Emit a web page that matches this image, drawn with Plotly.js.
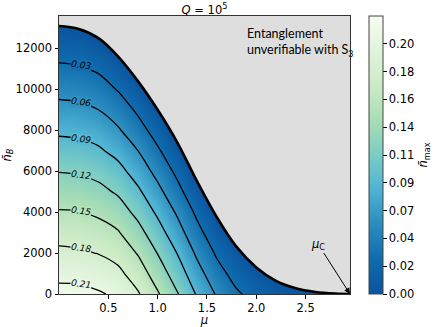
<!DOCTYPE html>
<html>
<head>
<meta charset="utf-8">
<script src="https://cdn.plot.ly/plotly-3.0.1.min.js"></script>
<style>
  body { margin: 0; background: #fff; }
  #plot { width: 444px; height: 327px; }
</style>
</head>
<body>
<div id="plot"></div>
<script>
// Сітка: mu (стовпці) та n_B (рядки)
const mu = [0, 0.2, 0.4, 0.6, 0.8, 1.0, 1.2, 1.4, 1.6, 1.8, 2.0, 2.2, 2.4, 2.6, 2.8, 2.95];
const nB = [0, 1000, 2000, 3000, 4000, 5000, 6000, 7000, 8000, 9000, 10000, 11000, 12000, 13000, 14000];

// n_max, оцінено з картинки (від'ємні значення - за межею, під сірою заливкою)
const nMax = [
  [0.219, 0.218, 0.213, 0.205, 0.183, 0.153, 0.122, 0.087, 0.057, 0.034, 0.020, 0.010, 0.005, 0.002, 0.000, 0.000],
  [0.202, 0.201, 0.196, 0.187, 0.165, 0.136, 0.105, 0.071, 0.041, 0.019, 0.005, -0.006, -0.013, -0.016, -0.015, -0.016],
  [0.186, 0.184, 0.179, 0.169, 0.148, 0.119, 0.089, 0.055, 0.026, 0.005, -0.011, -0.022, -0.031, -0.034, -0.030, -0.032],
  [0.169, 0.167, 0.162, 0.152, 0.130, 0.102, 0.072, 0.039, 0.011, -0.010, -0.026, -0.038, -0.049, -0.052, -0.045, -0.048],
  [0.152, 0.151, 0.145, 0.134, 0.112, 0.085, 0.056, 0.024, -0.004, -0.025, -0.042, -0.055, -0.066, -0.070, -0.060, -0.064],
  [0.135, 0.134, 0.128, 0.116, 0.095, 0.068, 0.039, 0.008, -0.019, -0.040, -0.057, -0.071, -0.084, -0.088, -0.075, -0.080],
  [0.119, 0.117, 0.111, 0.099, 0.077, 0.051, 0.023, -0.008, -0.034, -0.055, -0.072, -0.087, -0.102, -0.106, -0.090, -0.096],
  [0.102, 0.100, 0.094, 0.081, 0.060, 0.034, 0.007, -0.024, -0.049, -0.070, -0.088, -0.103, -0.120, -0.124, -0.105, -0.112],
  [0.085, 0.083, 0.077, 0.063, 0.042, 0.017, -0.010, -0.039, -0.064, -0.085, -0.103, -0.120, -0.138, -0.142, -0.120, -0.128],
  [0.068, 0.066, 0.060, 0.046, 0.025, 0.000, -0.026, -0.055, -0.079, -0.100, -0.118, -0.136, -0.156, -0.160, -0.135, -0.144],
  [0.052, 0.050, 0.043, 0.028, 0.007, -0.017, -0.043, -0.071, -0.094, -0.115, -0.134, -0.152, -0.174, -0.178, -0.150, -0.160],
  [0.035, 0.033, 0.026, 0.011, -0.011, -0.034, -0.059, -0.087, -0.109, -0.130, -0.149, -0.168, -0.192, -0.196, -0.165, -0.176],
  [0.018, 0.016, 0.009, -0.007, -0.028, -0.051, -0.076, -0.102, -0.124, -0.145, -0.165, -0.185, -0.210, -0.214, -0.180, -0.192],
  [0.002, -0.001, -0.009, -0.025, -0.046, -0.068, -0.092, -0.118, -0.139, -0.160, -0.180, -0.201, -0.227, -0.232, -0.195, -0.208],
  [-0.015, -0.018, -0.026, -0.042, -0.063, -0.085, -0.108, -0.134, -0.155, -0.174, -0.195, -0.217, -0.245, -0.250, -0.210, -0.224]
];

// Межа області (n_max = 0)
const boundaryMu = [0, 0.2, 0.4, 0.6, 0.8, 1.0, 1.2, 1.4, 1.6, 1.8, 2.0, 2.2, 2.4, 2.6, 2.8, 2.95];
const boundaryNB = [13090, 12950, 12500, 11600, 10400, 9000, 7400, 5500, 3750, 2300, 1300, 640, 280, 100, 20, 0];

// Рівні контурів
const levels = [0.03, 0.06, 0.09, 0.12, 0.15, 0.18, 0.21];

// Шкала кольорів
const cbTicks = [0, 0.0225, 0.045, 0.0675, 0.09, 0.1125, 0.135, 0.1575, 0.18, 0.2025];
const cbLabels = ['0.00', '0.02', '0.04', '0.07', '0.09', '0.11', '0.14', '0.16', '0.18', '0.20'];
const xTicks = [0.5, 1.0, 1.5, 2.0, 2.5];
const yTicks = [0, 2000, 4000, 6000, 8000, 10000, 12000];

const muC = 2.95;
const yTop = 13580;
const zMax = 0.225;

const colors = [
  [0, '#0a539e'], [0.125, '#0f6cae'], [0.25, '#2b8cbe'], [0.375, '#4eb3d3'],
  [0.5, '#7bccc4'], [0.625, '#a8ddb5'], [0.75, '#ccebc5'], [0.875, '#e0f3db'], [1, '#f7fcf0']
];

// колір шкали для значення v (фон підпису контуру)
const colorAt = (v) => {
  const t = Math.min(1, Math.max(0, v / zMax));
  for (let i = 0; i < colors.length - 1; i++) {
    const [t0, c0] = colors[i];
    const [t1, c1] = colors[i + 1];
    if (t <= t1) {
      const f = (t - t0) / (t1 - t0);
      const a = [1, 3, 5].map(k => parseInt(c0.substr(k, 2), 16));
      const b = [1, 3, 5].map(k => parseInt(c1.substr(k, 2), 16));
      const c = a.map((x, j) => Math.round(x + f * (b[j] - x)));
      return `rgb(${c.join(',')})`;
    }
  }
  return colors[colors.length - 1][1];
};

// де рівень перетинає стовпчик mu = 0.2 (для підписів зліва, як у matplotlib)
const labelCol = 1;
const crossY = (lev) => {
  for (let i = 0; i < nB.length - 1; i++) {
    const z0 = nMax[i][labelCol], z1 = nMax[i + 1][labelCol];
    if (z0 >= lev && z1 < lev) return nB[i] + (nB[i + 1] - nB[i]) * (z0 - lev) / (z0 - z1);
  }
  return null;
};

const tickFont = { family: 'DejaVu Sans', size: 11.5, color: '#000' };

const contour = {
  type: 'contour',
  x: mu,
  y: nB,
  z: nMax,
  zmin: 0,
  zmax: zMax,
  zauto: false,
  colorscale: colors,
  showscale: false,
  contours: {
    coloring: 'heatmap',
    start: levels[0], end: levels[levels.length - 1], size: 0.03,
    showlabels: false
  },
  line: { color: '#000', width: 1.3, smoothing: 1 },
  hoverinfo: 'skip'
};

// окрема шкала без ліній контурів (поза видимою областю)
const scaleOnly = {
  type: 'heatmap',
  x: [-2, -1], y: [0, 1],
  z: [[0, zMax], [0, zMax]],
  zmin: 0, zmax: zMax,
  colorscale: colors,
  colorbar: {
    x: 1.066, xanchor: 'left', xpad: 0,
    y: 0.5, yanchor: 'middle', len: 1, ypad: 0,
    thickness: 14,
    outlinewidth: 1, outlinecolor: '#444',
    ticks: 'outside', ticklen: 3.5, tickcolor: '#000',
    tickmode: 'array', tickvals: cbTicks, ticktext: cbLabels,
    tickfont: tickFont,
    title: { text: '<i>n̄</i><sub>max</sub>', side: 'right', font: { family: 'DejaVu Sans', size: 11.5 } }
  },
  hoverinfo: 'skip'
};

// Верхня межа для сірої заливки
const topEdge = {
  type: 'scatter', mode: 'lines',
  x: [0, muC], y: [yTop, yTop],
  line: { width: 0 }, showlegend: false, hoverinfo: 'skip'
};

const boundary = {
  type: 'scatter', mode: 'lines',
  x: boundaryMu, y: boundaryNB,
  line: { color: '#000', width: 2.6, shape: 'spline' },
  fill: 'tonexty', fillcolor: '#dedede',
  showlegend: false, hoverinfo: 'skip'
};

const levelLabels = levels.map(lev => ({
  text: lev.toFixed(2),
  x: mu[labelCol] + 0.02, y: crossY(lev), xref: 'x', yref: 'y',
  showarrow: false, textangle: 8,
  bgcolor: colorAt(lev), borderpad: 0,
  font: { family: 'DejaVu Sans', size: 9, color: '#000', style: 'italic' }
}));

const layout = {
  width: 444, height: 327,
  margin: { l: 59, r: 81, t: 16, b: 33 },
  paper_bgcolor: '#fff',
  plot_bgcolor: '#dedede',
  font: { family: 'DejaVu Sans', color: '#000' },
  title: {
    text: '<i>Q</i> = 10<sup>5</sup>',
    font: { family: 'DejaVu Sans', size: 11.5 },
    x: 0.5, xref: 'paper', xanchor: 'center',
    y: 1, yref: 'paper', yanchor: 'bottom', pad: { b: 2 }
  },
  xaxis: {
    range: [0, muC],
    tickmode: 'array', tickvals: xTicks, tickformat: '.1f',
    ticks: 'outside', ticklen: 3.5, tickcolor: '#000',
    tickfont: tickFont,
    showgrid: false, zeroline: false,
    showline: true, linecolor: '#333', linewidth: 1, mirror: true,
    title: { text: '<i>μ</i>', font: { family: 'DejaVu Sans', size: 11.5 }, standoff: 2 }
  },
  yaxis: {
    range: [0, yTop],
    tickmode: 'array', tickvals: yTicks, tickformat: 'd',
    ticks: 'outside', ticklen: 3.5, tickcolor: '#000',
    tickfont: tickFont,
    showgrid: false, zeroline: false,
    showline: true, linecolor: '#333', linewidth: 1, mirror: true,
    title: { text: '<i>n̄</i><sub><i>B</i></sub>', font: { family: 'DejaVu Sans', size: 11.5 }, standoff: 6 }
  },
  annotations: [
    {
      text: 'Entanglement<br>unverifiable with S<sub>3</sub>',
      xref: 'paper', yref: 'paper', x: 0.64, y: 0.97,
      xanchor: 'left', yanchor: 'top', align: 'left',
      showarrow: false,
      font: { family: 'Lato', size: 12.5, color: '#000' }
    },
    {
      text: '<i>μ</i><sub>C</sub>',
      x: muC, y: 0, xref: 'x', yref: 'y',
      ax: -32, ay: -50,
      showarrow: true, arrowhead: 2, arrowsize: 1.2, arrowwidth: 1, arrowcolor: '#000',
      font: { family: 'DejaVu Sans', size: 11.5, color: '#000' }
    }
  ].concat(levelLabels)
};

Plotly.newPlot('plot', [contour, scaleOnly, topEdge, boundary], layout, { displayModeBar: false, staticPlot: true });
</script>
</body>
</html>
